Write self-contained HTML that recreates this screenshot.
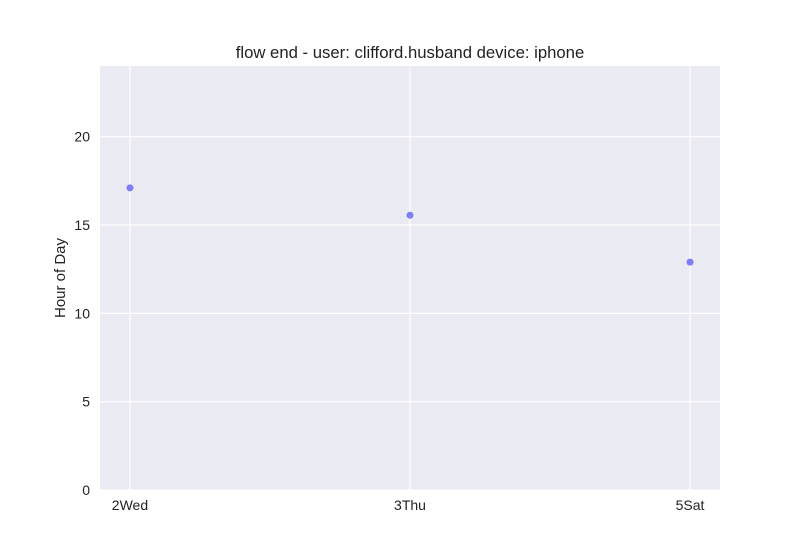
<!DOCTYPE html>
<html><head><meta charset="utf-8"><style>body{margin:0;background:#fff}svg{display:block}text{font-family:"Liberation Sans",sans-serif;fill:#222}</style></head>
<body>
<svg id="c" width="800" height="550"></svg>
<script>
const categories=["2Wed","3Thu","5Sat"];
const values=[17.1,15.55,12.9];
const yTicks=[0,5,10,15,20];
const NS="http://www.w3.org/2000/svg";
const svg=document.getElementById('c');
const L=100,R=720,T=66,B=490,yMax=24;
const xs=i=>L+(R-L)*(i+0.107)/(categories.length-1+0.214);
const ys=v=>B-(B-T)*v/yMax;
function el(t,a,p){const e=document.createElementNS(NS,t);for(const k in a)e.setAttribute(k,a[k]);(p||svg).appendChild(e);return e;}
const bg=el('rect',{x:L,y:T,width:R-L,height:B-T,fill:'#eaeaf2'});


yTicks.forEach(v=>{
 const g=el('line',{x1:L,x2:R,y1:ys(v),y2:ys(v),stroke:'#fff','stroke-width':1.2});
 
 
 const t=el('text',{x:L-10,y:ys(v)+5,'text-anchor':'end','font-size':14});
 t.textContent=v;
 
 
});
categories.forEach((c,i)=>{
 const g=el('line',{x1:xs(i),x2:xs(i),y1:T,y2:B,stroke:'#fff','stroke-width':1.2});
 
 
 const t=el('text',{x:xs(i),y:B+20,'text-anchor':'middle','font-size':14});
 t.textContent=c;
 
 
});
values.forEach((v,i)=>{
 const p=el('circle',{cx:xs(i),cy:ys(v),r:3.5,fill:'#6a6af5','fill-opacity':0.85});
 
 
});
const title=el('text',{x:410,y:58,'text-anchor':'middle','font-size':16.7});
title.textContent='flow end - user: clifford.husband device: iphone';


const yl=el('text',{x:0,y:0,'text-anchor':'middle','font-size':15,transform:'translate(65,278) rotate(-90)'});
yl.textContent='Hour of Day';


</script>
</body></html>
